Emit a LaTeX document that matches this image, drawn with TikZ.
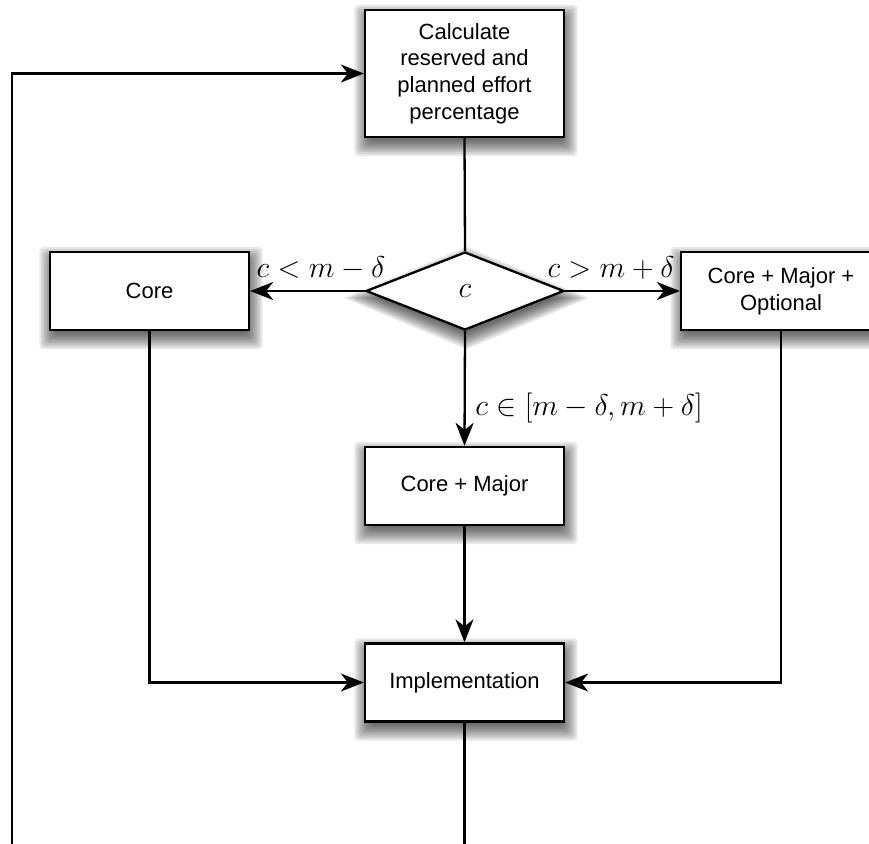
\RequirePackage{fix-cm}
\documentclass[tikz,border=0pt]{standalone}
\usepackage{fontspec}
\setmainfont{Liberation Sans}
\usetikzlibrary{shapes.geometric, arrows.meta}

\pgfdeclarelayer{shade}
\pgfsetlayers{shade,main}

\tikzset{
  stepbox/.style={draw, line width=2.3pt, fill=white, inner sep=0pt,
    minimum width=199pt, minimum height=78pt, align=center,
    font=\fontsize{22}{26.7}\selectfont},
  choice/.style={stepbox, diamond, minimum width=198pt, minimum height=78pt},
  flow/.style={line width=2.3pt},
  arr/.style={flow, -{Stealth[length=23pt, width=18pt, inset=7pt]}},
  lbl/.style={inner sep=0pt, font=\fontsize{30}{36}\selectfont},
  softshade/.style={black, fill opacity=0.09},
}

\begin{document}
\begin{tikzpicture}[x=1pt, y=-1pt]
  \useasboundingbox (0,0) rectangle (869,843);

  % process steps
  \node[stepbox, minimum height=127pt] (calc) at (464.5,73.5)
    {Calculate\\reserved and\\planned effort\\percentage};
  \node[choice] (dec) at (465,291) {\fontsize{30}{36}\selectfont$c$};
  \node[stepbox] (core) at (149.5,291) {Core};
  \node[stepbox, minimum width=200pt] (opt) at (781,291) {Core + Major +\\Optional};
  \node[stepbox] (maj) at (464.5,486) {Core + Major};
  \node[stepbox] (impl) at (464.5,682.5) {Implementation};

  % soft drop shadows, built from stacked translucent outlines
  \begin{pgfonlayer}{shade}
    \foreach \n in {calc,core,opt,maj,impl}{
      \foreach \d in {11,9,...,-5}{
        \fill[softshade, rounded corners=4pt]
          ([xshift={1.5pt-\d*1pt}, yshift={-7pt-\d*1pt}]\n.south west)
          rectangle ([xshift={1.5pt+\d*1pt}, yshift={-7pt+\d*1pt}]\n.north east);
      }
    }
    \foreach \d in {11,9,...,-5}{
      \fill[softshade]
        ([xshift=1.5pt, yshift={-7pt+\d*1pt}]dec.north)
        -- ([xshift={1.5pt+2*\d*1pt}, yshift=-7pt]dec.east)
        -- ([xshift=1.5pt, yshift={-7pt-\d*1pt}]dec.south)
        -- ([xshift={1.5pt-2*\d*1pt}, yshift=-7pt]dec.west) -- cycle;
    }
  \end{pgfonlayer}

  % free ends running off the lower edge
  \coordinate (out) at (464.5,850);
  \coordinate (back) at (12,850);

  % connectors
  \draw[flow] (calc.south) -- (dec.north);
  \draw[arr] (dec.west) -- (core.east);
  \draw[arr] (dec.east) -- (opt.west);
  \draw[arr] (dec.south) -- (maj.north);
  \draw[arr] (maj.south) -- (impl.north);
  \draw[arr] (core.south) |- (impl.west);
  \draw[arr] (opt.south) |- (impl.east);
  \draw[flow] (impl.south) -- (out);
  \draw[arr] (back) |- (calc.west);

  % branch conditions
  \node[lbl] (lo) at (321,268) {$c < m - \delta$};
  \node[lbl] (hi) at (611,268) {$c > m + \delta$};
  \node[lbl] (mid) at (589,408) {$c \in [m - \delta, m + \delta]$};
\end{tikzpicture}
\end{document}
